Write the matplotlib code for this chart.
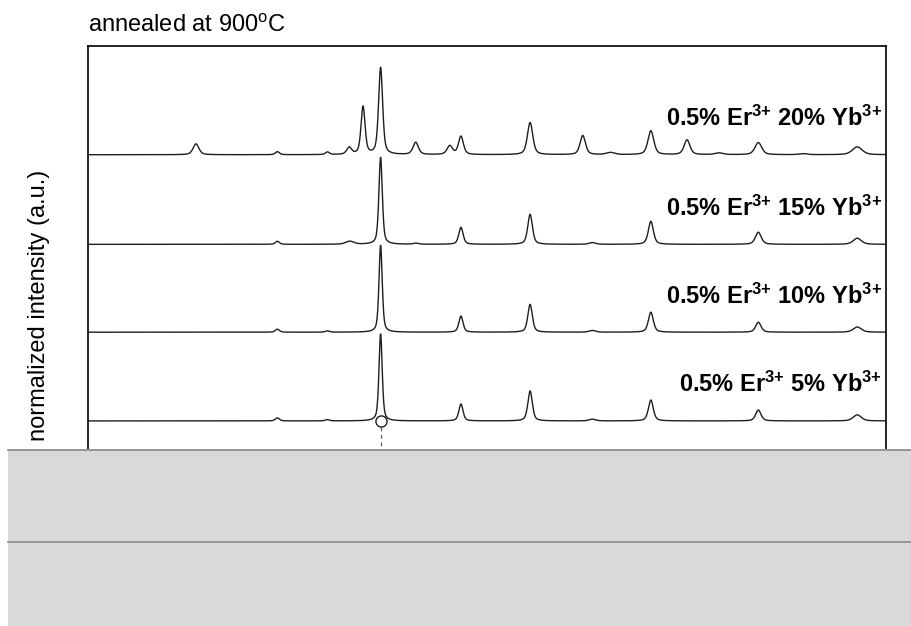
import numpy as np
import matplotlib
matplotlib.use("Agg")
import matplotlib.pyplot as plt
from matplotlib.patches import Rectangle
from matplotlib.lines import Line2D

plt.rcParams['font.family'] = ['Liberation Sans', 'DejaVu Sans']
plt.rcParams['mathtext.fontset'] = 'custom'
plt.rcParams['mathtext.rm'] = 'Liberation Sans'
plt.rcParams['mathtext.it'] = 'Liberation Sans:italic'
plt.rcParams['mathtext.bf'] = 'Liberation Sans:bold'

# ---- data ----
two_theta_min, two_theta_max = 5, 80

labels = [r"0.5% Er$^{\mathbf{3{+}}}$ 5% Yb$^{\mathbf{3{+}}}$",
          r"0.5% Er$^{\mathbf{3{+}}}$ 10% Yb$^{\mathbf{3{+}}}$",
          r"0.5% Er$^{\mathbf{3{+}}}$ 15% Yb$^{\mathbf{3{+}}}$",
          r"0.5% Er$^{\mathbf{3{+}}}$ 20% Yb$^{\mathbf{3{+}}}$"]

pos_5 = [22.8, 27.5, 32.5, 40.05, 46.55, 52.4, 57.9, 68.0, 77.3]
amp_5 = [0.035, 0.015, 1.0, 0.195, 0.345, 0.02, 0.24, 0.125, 0.07]
fwhm_5 = [0.45, 0.45, 0.36, 0.46, 0.5, 0.7, 0.55, 0.6, 0.9]

pos_10 = [22.8, 27.5, 32.5, 40.05, 46.55, 52.4, 57.9, 68.0, 77.3]
amp_10 = [0.035, 0.015, 1.0, 0.185, 0.32, 0.02, 0.23, 0.115, 0.06]
fwhm_10 = [0.45, 0.45, 0.36, 0.46, 0.5, 0.7, 0.55, 0.6, 0.9]

pos_15 = [22.8, 29.6, 32.5, 35.8, 40.05, 46.55, 52.4, 57.9, 68.0, 77.3]
amp_15 = [0.035, 0.035, 1.0, 0.012, 0.195, 0.345, 0.02, 0.265, 0.14, 0.07]
fwhm_15 = [0.45, 0.9, 0.38, 0.6, 0.48, 0.52, 0.7, 0.56, 0.65, 0.9]

pos_20 = [15.15, 22.8, 27.5, 29.55, 30.85, 32.5, 35.8, 39.0, 40.05, 46.55,
          51.5, 54.1, 57.9, 61.3, 64.3, 68.0, 72.2, 77.3]
amp_20 = [0.125, 0.035, 0.03, 0.08, 0.55, 1.0, 0.14, 0.1, 0.21, 0.37,
          0.22, 0.025, 0.275, 0.17, 0.02, 0.14, 0.012, 0.09]
fwhm_20 = [0.65, 0.45, 0.45, 0.55, 0.45, 0.45, 0.6, 0.6, 0.55, 0.6,
           0.6, 0.9, 0.65, 0.65, 0.9, 0.75, 0.9, 1.1]

offsets = [0.0, 1.02, 2.03, 3.06]
ref_peak = 32.5

# ---- drawing ----
def profile(x, pos, amp, fwhm, eta=0.5):
    y = np.zeros_like(x)
    for p, a, w in zip(pos, amp, fwhm):
        hw = w / 2.0
        lor = 1.0 / (1.0 + ((x - p) / hw) ** 2)
        gau = np.exp(-np.log(2) * ((x - p) / hw) ** 2)
        y += a * (eta * lor + (1 - eta) * gau)
    return y

W, H = 912, 626
fig = plt.figure(figsize=(W / 100, H / 100), dpi=100)
ax = fig.add_axes([88 / W, (H - 470) / H, 798 / W, 424 / H])

x = np.linspace(two_theta_min, two_theta_max, 4000)
series = [(pos_5, amp_5, fwhm_5), (pos_10, amp_10, fwhm_10),
          (pos_15, amp_15, fwhm_15), (pos_20, amp_20, fwhm_20)]
for (p, a, w), off, lab in zip(series, offsets, labels):
    ax.plot(x, profile(x, p, a, w) + off, color='#1e1e1e', lw=1.0)
    ax.text(0.995, off + 0.33, lab, transform=ax.get_yaxis_transform(),
            ha='right', va='baseline', fontsize=17, fontweight='bold')

ax.plot([ref_peak, ref_peak], [-0.07, -0.6], color='#555555', lw=0.9,
        dashes=(3, 3))
ax.plot([ref_peak], [0], marker='o', ms=8, mfc='white', mec='#1e1e1e',
        mew=1.0, zorder=5)

ax.set_xlim(two_theta_min, two_theta_max)
ax.set_ylim(-0.564, 4.31)
ax.set_xticks([])
ax.set_yticks([])
for s in ax.spines.values():
    s.set_linewidth(1.2)

fig.text(88 / W, 1 - 32 / H, r"annealed at 900$^{\mathrm{o}}$C",
         fontsize=17, ha='left', va='baseline')
fig.text(39 / W, 1 - 305 / H, "normalized intensity (a.u.)", fontsize=17,
         rotation=90, ha='center', va='center')

# grey band at the bottom of the reference
fig.add_artist(Rectangle((8 / W, 0), 1 - 8 / W, (H - 449) / H,
                         transform=fig.transFigure, facecolor='#d9d9d9',
                         edgecolor='none', zorder=10))
for yy in (450, 542):
    fig.add_artist(Line2D([8 / W, 1], [1 - yy / H] * 2,
                          transform=fig.transFigure, color='#8a8a8a',
                          lw=1.2, zorder=11))

fig.savefig("out.png", dpi=100)
